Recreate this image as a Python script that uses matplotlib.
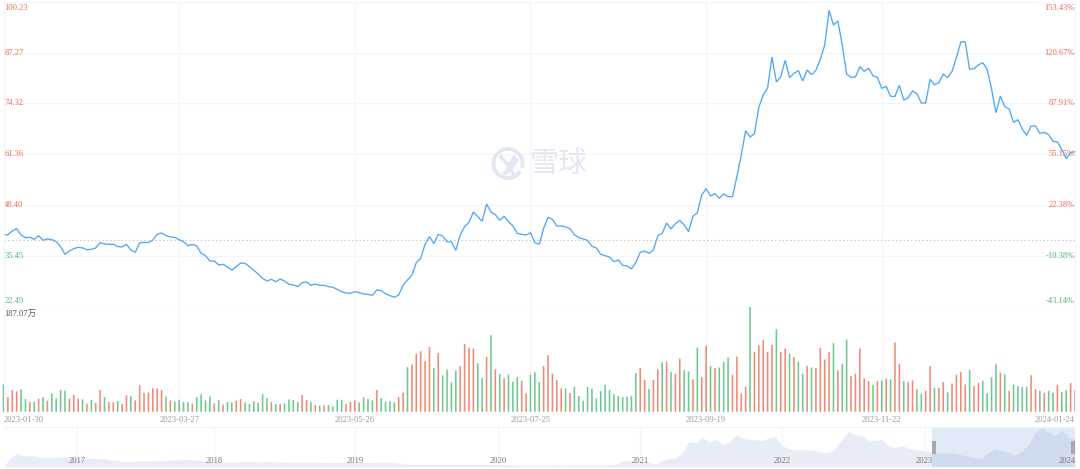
import numpy as np
import matplotlib
matplotlib.use("Agg")
import matplotlib.pyplot as plt
from matplotlib.patches import Circle, Arc, Rectangle
from matplotlib.transforms import blended_transform_factory as blend

price = [
40.91,40.91,41.85,42.44,40.83,40.15,40.23,39.72,40.66,39.47,39.81,39.64,39.13,37.86,35.90,36.75,37.35,37.69,37.52,37.09,37.18,37.52,38.88,38.54,38.45,38.45,37.86,37.77,38.45,37.01,36.41,38.79,38.96,38.88,39.55,41.0,41.34,40.66,40.32,40.23,39.64,39.13,38.11,38.45,38.03,36.16,35.56,34.21,34.21,33.19,33.36,32.68,31.92,32.77,33.70,33.61,32.77,31.83,30.90,29.79,29.11,29.54,28.94,29.62,29.11,28.27,28.10,27.67,28.69,28.86,28.01,28.35,28.01,28.01,27.67,27.50,27.0,26.40,26.06,25.97,26.40,26.15,
25.81,25.72,25.47,26.82,26.65,25.89,25.38,24.96,25.55,28.10,29.37,30.64,33.78,34.89,38.45,40.40,38.62,41.0,40.57,39.13,39.05,36.92,40.83,42.95,44.05,46.68,45.49,44.31,48.72,46.68,46.0,44.56,45.58,44.22,43.12,41.25,41.0,40.83,41.42,38.88,38.45,42.52,45.32,44.82,43.12,43.12,42.86,42.44,40.91,40.15,39.81,39.47,37.94,37.52,35.90,35.56,35.22,34.04,34.46,33.10,32.93,32.17,33.87,36.41,36.75,36.16,37.01,40.66,41.25,43.88,42.35,43.71,44.56,43.37,41.68,45.66,46.43,51.01,52.62,50.76,51.35,50.16,
51.27,50.59,50.59,55.68,61.2,67.39,65.78,66.63,73.33,76.47,78.25,86.15,79.78,81.14,85.30,80.89,81.99,82.67,80.04,82.84,81.65,82.75,85.55,89.2,98.03,94.29,95.31,89.2,81.82,80.97,81.06,83.69,82.50,83.26,81.39,80.97,78.17,78.68,76.13,76.13,78.93,75.2,75.71,77.49,76.81,74.43,74.43,80.46,79.10,79.61,81.82,80.89,82.50,86.06,89.97,90.05,83.0,83.18,84.11,84.70,83.0,78.0,71.97,76.22,73.50,72.91,69.51,70.19,67.73,66.20,68.58,68.58,66.71,66.97,66.37,64.68,64.51,62.55,60.26,61.79,62.04]

volume = [
48.7,26.1,38.6,36.2,39.8,22.6,17.2,17.8,23.2,26.1,19.6,32.7,23.8,38.6,37.4,23.2,29.7,23.2,22.0,14.3,20.8,15.4,38.6,26.1,17.2,16.6,19.0,13.7,29.1,27.3,20.2,47.5,33.3,34.5,42.2,41.6,38.6,27.3,20.2,18.4,21.4,17.2,17.2,14.3,26.1,30.9,20.2,27.3,14.9,20.8,13.1,17.2,16.6,19.6,22.6,16.6,13.7,18.4,16.0,31.5,24.4,17.2,13.7,13.7,14.9,22.0,20.8,17.2,29.7,20.8,17.2,11.9,10.7,11.3,11.9,9.5,21.4,20.8,13.7,17.8,20.2,16.6,
25.5,22.6,20.2,38.6,24.4,17.8,19.0,16.6,25.5,33.9,79.6,84.3,103.4,108.1,90.3,115.8,77.8,105.1,64.7,75.4,52.3,73.7,81.4,121.2,113.5,112.9,86.7,60.6,98,136.6,76,67.1,60,66.5,53.5,61.8,55.2,32.7,65.9,70.7,52.9,81.4,101,67.7,56.4,41.6,41.6,33.3,44.6,27.9,19.6,44.6,41,23.8,36.8,48.1,38.6,31.5,27.9,26.1,26.7,27.9,68.9,77.8,56.4,40.4,56.4,75.4,87.9,89.1,70.7,67.7,95,74.3,71.9,57.6,114.6,61.8,117.6,81.4,77.8,79,
88.5,96.8,65.9,98.6,32.1,44.6,187.07,106.9,118.8,127.7,106.9,119.4,147.3,106.3,112.9,103.4,97.4,89.1,67.7,82,79,77.8,114,93.3,106.9,122.4,73.7,85.5,128.9,64.2,67.7,112.9,59.4,54.6,48.1,54.6,55.8,58.8,57.6,123.6,85.5,54.6,52.9,55.8,40.4,31.5,37.4,81.4,42.2,42.2,52.9,34.5,50.5,65.9,70.7,48.7,74.8,45.7,51.1,55.2,32.7,61.8,84.9,70.1,67.1,37.4,48.7,45.7,44,44.6,65.3,40.4,37.4,33.9,37.4,33.9,48.1,35,38.6,51.1,38.6]

direction = list(
"GRRRGGRGRG" "RGGGGRRRGR" "GRRGRRGRRG" "RRRRRRRGRG" "GGGRGGGGRG" "RGGRRGGGGG" "GRGRGGGGRR" "GRGRGGGGRR" "RG"
"GGGRGGGGRR" "GRRRRRGRGG" "GGRRRRGGRG" "RGRGGGRRGG" "GRRRRRGRGG" "GGGGGGGGGG" "GGGRRGRRGR" "GRRGGRGRRG" "RG"
"GGRRRRGRRR" "RRGRRGRGGR" "GRRRRGRGGR" "RRRRGRGRGR" "RGRRGGRRGR" "RGRRRRGRRG" "GGGRGRGGGG" "RRGRGGRGGR" "R")

ytick_values = [100.23, 87.27, 74.32, 61.36, 48.40, 35.45, 22.49]
ytick_labels = ["100.23", "87.27", "74.32", "61.36", "48.40", "35.45", "22.49"]
pct_labels = ["153.43%", "120.67%", "87.91%", "55.15%", "22.38%", "-10.38%", "-43.14%"]
base_price = 39.56
date_index = [0, 40, 80, 120, 160, 200, 244]
date_labels = ["2023-01-30", "2023-03-27", "2023-05-26", "2023-07-25", "2023-09-19", "2023-11-22", "2024-01-24"]
volume_max_label = "187.07万"

overview = [
0.9,21.4,34.3,26.6,28.3,26.6,22.3,22.3,24,25.7,23.1,21.4,21.4,21.4,21.4,20.6,18,16.3,13.7,12.9,14.6,14.6,14.6,14.6,15.4,17.1,17.1,18,18,17.1,14.6,12.9,12.9,12,11.1,12,12.9,12.9,12,12.9,12.9,12,11.1,11.1,11.1,11.1,11.1,11.1,11.1,10.3,10.3,11.1,12,12,
11.1,10.3,11.1,11.1,11.1,10.3,6.9,6,6,6,6,6,6,6,6,6,6,6,6,6,5.1,5.1,5.1,4.3,2.6,2.6,2.6,2.6,2.6,4.3,2.6,3.4,3.4,3.4,3.4,3.4,3.4,4.3,6,14.6,16.3,11.1,14.6,11.1,6,16.3,20.6,21.4,36.9,64.3,60.8,76.3,62.6,71.1,
57.3,62.6,81.4,74.5,68.6,69.4,66,74.5,77.1,54,47.1,42.9,43.7,42,42,35.1,36.9,47.1,71.1,90,81.4,79.7,67.8,67.8,69.4,52.3,48.9,54,47.1,44.6,42,38.6,35.1,35.1,35.1,35.1,30,25.7,23.1,21.4,36.9,45.4,42,36.9,30,40.3,55.7,88.3,100.2,88.3,79.7,94.3,74.5,71.1]
overview_years = ["2017", "2018", "2019", "2020", "2021", "2022", "2023", "2024"]
overview_year_index = [11.09, 31.6, 52.8, 74.35, 95.65, 117.0, 138.4, 159.8]

if len(price) != 245 or len(volume) != 245 or len(direction) != 245:
    raise SystemExit(f"counts {len(price)} {len(volume)} {len(direction)}")

W, H = 1080, 469
RED, GREEN = "#ef6a50", "#49b974"
GRID = "#f2f4f7"
FS = 6.1
plt.rcParams["font.family"] = ["Liberation Serif", "Noto Sans CJK SC"]
fig = plt.figure(figsize=(W / 100, H / 100), dpi=100)

def axes_px(x0, y0, x1, y1):
    return fig.add_axes([x0 / W, 1 - y1 / H, (x1 - x0) / W, (y1 - y0) / H])

L, R = 3.5, 1075.0
ax = axes_px(L, 1.7, R, 307)
av = axes_px(L, 307, R, 411.7)
am = axes_px(L, 427.3, R, 466.7)

for a in (ax, av, am):
    for s in a.spines.values():
        s.set_visible(False)
    a.set_yticks([])
    a.tick_params(length=0)

x = np.arange(len(price))

# price panel
ax.set_xlim(0, 244)
ax.set_ylim(22.49, 100.23)
ax.set_xticks(date_index[1:-1])
ax.set_xticklabels([])
ax.set_yticks(ytick_values)
ax.set_yticklabels([])
ax.grid(True, color=GRID, lw=0.8)
ax.set_axisbelow(True)
ax.plot(x, price, color="#4fa8f7", lw=0.95, solid_joinstyle="miter", zorder=3)
ax.axhline(base_price, color="#c4c4c4", lw=0.8, ls=(0, (1.2, 2.2)), zorder=2)

# watermark
wm = "#e2e7f1"
fig.add_artist(Arc((508 / W, 1 - 163.5 / H), 29 / W, 29 / H, theta1=-35, theta2=305, color=wm, lw=2.8))
fig.add_artist(plt.Line2D([501 / W, 507 / W, 515 / W], [1 - 157 / H, 1 - 164 / H, 1 - 176 / H], color=wm, lw=2.6))
fig.add_artist(plt.Line2D([507 / W, 514 / W, 517 / W, 510 / W, 505 / W], [1 - 171 / H, 1 - 157 / H, 1 - 160 / H, 1 - 170 / H, 1 - 173 / H], color=wm, lw=2.6))
fig.text(558.5 / W, 1 - 163.5 / H, "雪球", family="Noto Sans CJK SC", weight="medium", size=21,
         color=wm, ha="center", va="center", zorder=1)

tl = blend(ax.transAxes, ax.transData)
for i, (v, a, b) in enumerate(zip(ytick_values, ytick_labels, pct_labels)):
    c = RED if v > base_price else GREEN
    off = -6 if i == 0 else (6 if i == len(ytick_values) - 1 else 0)
    yy = v + off * (100.23 - 22.49) / 305.3
    ax.text(0.0006, yy, a, transform=tl, color=c, size=FS, ha="left", va="center", zorder=4)
    ax.text(1.0, yy, b, transform=tl, color=c, size=FS, ha="right", va="center", zorder=2)

# volume panel
av.set_xlim(0, 244)
av.set_ylim(0, 187.07)
colors = [RED if d == "R" else GREEN for d in direction]
bars = av.bar(x, volume, width=0.36, color=colors, linewidth=0, zorder=3, clip_on=False, alpha=0.8)
for b_ in bars:
    b_.set_snap(False)
av.set_xticks(date_index[1:-1])
av.set_xticklabels([])
av.grid(True, axis="x", color=GRID, lw=0.8)
av.set_axisbelow(True)
av.text(0.0006, 0.938, volume_max_label, transform=av.transAxes, color="#555555", size=FS,
        ha="left", va="center")
dt = blend(av.transData, av.transAxes)
for i, (p, s) in enumerate(zip(date_index, date_labels)):
    ha = "left" if i == 0 else ("right" if i == len(date_index) - 1 else "center")
    av.text(p, -0.082, s, transform=dt, color="#999999", size=FS, ha=ha, va="center", clip_on=False)

# lines that frame the panels
fig.add_artist(plt.Line2D([L / W, R / W], [1 - 427.3 / H] * 2, color=GRID, lw=0.8))
fig.add_artist(plt.Line2D([L / W] * 2, [1 - 1.7 / H, 1 - 411.7 / H], color=GRID, lw=0.8))
fig.add_artist(plt.Line2D([R / W] * 2, [1 - 1.7 / H, 1 - 411.7 / H], color=GRID, lw=0.8))

# overview panel
mx = np.arange(len(overview))
am.set_xlim(0, len(overview) - 1)
am.set_ylim(0, 101)
am.fill_between(mx, overview, 0, color="#e8ecf6", lw=0, zorder=2)
am.set_xticks(overview_year_index)
am.set_xticklabels([])
am.grid(True, axis="x", color=GRID, lw=0.8)
am.set_axisbelow(True)
mt = blend(am.transData, am.transAxes)
for p, s in zip(overview_year_index, overview_years):
    am.text(p, 0.14, s, transform=mt, color="#777777", size=FS, ha="center", va="center", zorder=5)
am.add_patch(Rectangle((0.8665, 0), 0.1335, 1.0, transform=am.transAxes, color="#3a7fd5", alpha=0.15, lw=0, zorder=3))
am.add_patch(Rectangle((0.8665, 0.33), 0.004, 0.33, transform=am.transAxes, color="#a9a9a9", lw=0, zorder=4))
am.add_patch(Rectangle((0.9965, 0.33), 0.0035, 0.33, transform=am.transAxes, color="#a9a9a9", lw=0, zorder=4))

fig.savefig("out.png", dpi=100)
